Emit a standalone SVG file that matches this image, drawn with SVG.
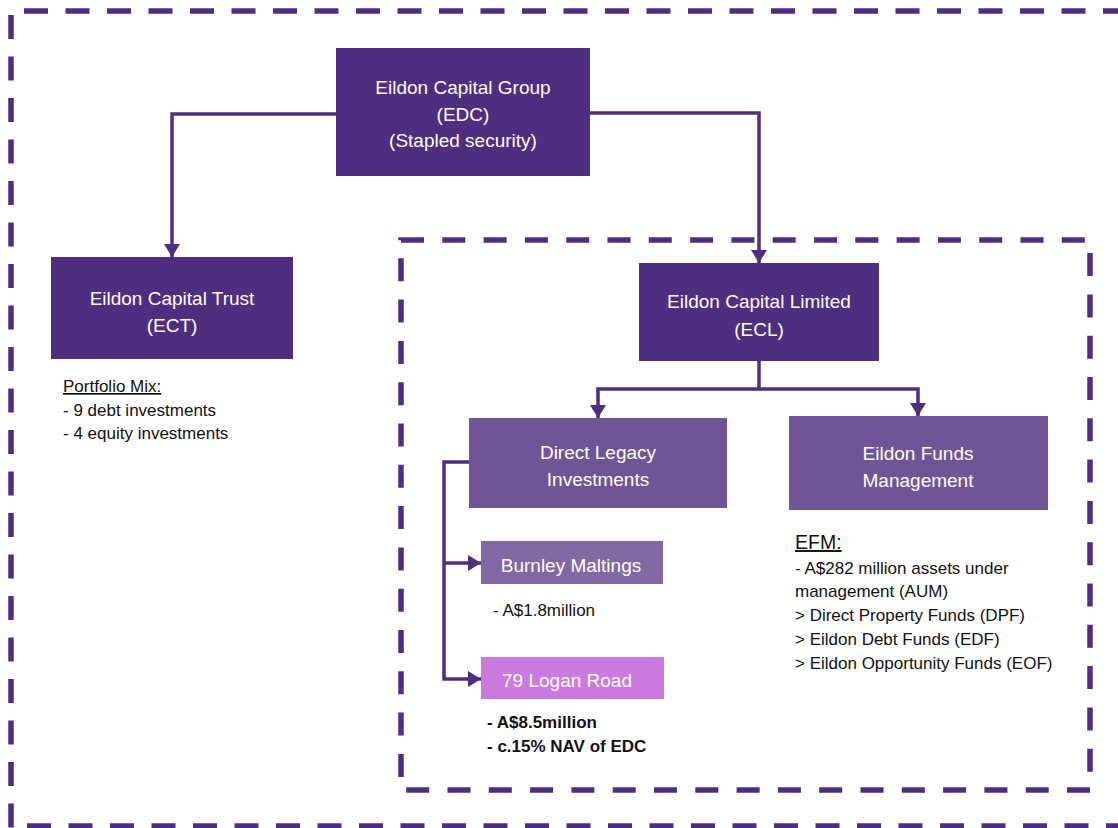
<svg xmlns="http://www.w3.org/2000/svg" width="1118" height="828" viewBox="0 0 1118 828">
<style>
.box-dark{fill:#4f2d7f}
.box-mid{fill:#705596}
.box-light{fill:#8268a2}
.box-pink{fill:#cd7ae0}
.bt{font-family:"Liberation Sans",Arial,sans-serif;font-size:19px;fill:#ffffff;text-anchor:middle}
.nt{font-family:"Liberation Sans",Arial,sans-serif;font-size:17px;fill:#111111}
.nb{font-family:"Liberation Sans",Arial,sans-serif;font-size:17px;font-weight:bold;fill:#111111}
.dash{fill:none;stroke:#4f2d7f;stroke-width:5.5;stroke-dasharray:24 17.5}
.conn{fill:none;stroke:#4f2d7f;stroke-width:3.5}
</style>
<defs>
<marker id="arr" markerUnits="userSpaceOnUse" markerWidth="14" markerHeight="16" refX="13" refY="8" orient="auto">
<path d="M0,0 L13,8 L0,16 Z" fill="#4f2d7f"/>
</marker>
</defs>
<rect width="1118" height="828" fill="#ffffff"/>

<g id="outer-boundary">
<line class="dash" x1="24" y1="11" x2="1130" y2="11"/>
<line class="dash" x1="11" y1="15" x2="11" y2="840"/>
<line class="dash" x1="27" y1="826" x2="1130" y2="826"/>
</g>
<g id="inner-boundary">
<path class="dash" style="stroke-dasharray:23 18.3" d="M401,240 H1090 V790 H401 Z"/>
</g>

<g id="connectors">
<polyline class="conn" points="336,114 172,114 172,257" marker-end="url(#arr)"/>
<polyline class="conn" points="590,113 759,113 759,263" marker-end="url(#arr)"/>
<polyline class="conn" points="759,361 759,389"/>
<polyline class="conn" points="759,389 598,389 598,418" marker-end="url(#arr)"/>
<polyline class="conn" points="759,389 918,389 918,416" marker-end="url(#arr)"/>
<polyline class="conn" points="469,462 444,462 444,679 481,679" marker-end="url(#arr)"/>
<polyline class="conn" points="444,563 481,563" marker-end="url(#arr)"/>
</g>

<g id="edc">
<rect class="box-dark" x="336" y="48" width="254" height="128"/>
<text class="bt" x="463" y="94">Eildon Capital Group</text>
<text class="bt" x="463" y="121">(EDC)</text>
<text class="bt" x="463" y="147">(Stapled security)</text>
</g>

<g id="ect">
<rect class="box-dark" x="51" y="257" width="242" height="102"/>
<text class="bt" x="172" y="305">Eildon Capital Trust</text>
<text class="bt" x="172" y="332">(ECT)</text>
<text class="nt" x="63" y="392" text-decoration="underline">Portfolio Mix:</text>
<text class="nt" x="63" y="416">- 9 debt investments</text>
<text class="nt" x="63" y="439">- 4 equity investments</text>
</g>

<g id="ecl">
<rect class="box-dark" x="639" y="263" width="240" height="98"/>
<text class="bt" x="759" y="308">Eildon Capital Limited</text>
<text class="bt" x="759" y="336">(ECL)</text>
</g>

<g id="dli">
<rect class="box-mid" x="469" y="418" width="258" height="90"/>
<text class="bt" x="598" y="459">Direct Legacy</text>
<text class="bt" x="598" y="486">Investments</text>
</g>

<g id="efm">
<rect class="box-mid" x="789" y="416" width="259" height="94"/>
<text class="bt" x="918" y="460">Eildon Funds</text>
<text class="bt" x="918" y="487">Management</text>
<text class="nt" x="795" y="549" style="font-size:19.5px" text-decoration="underline">EFM:</text>
<text class="nt" x="795" y="574">- A$282 million assets under</text>
<text class="nt" x="795" y="597">management (AUM)</text>
<text class="nt" x="795" y="621">&gt; Direct Property Funds (DPF)</text>
<text class="nt" x="795" y="645">&gt; Eildon Debt Funds (EDF)</text>
<text class="nt" x="795" y="669">&gt; Eildon Opportunity Funds (EOF)</text>
</g>

<g id="burnley">
<rect class="box-light" x="481" y="541" width="182" height="43"/>
<text class="bt" x="571" y="572">Burnley Maltings</text>
<text class="nt" x="493" y="616">- A$1.8million</text>
</g>

<g id="logan">
<rect class="box-pink" x="481" y="657" width="183" height="42"/>
<text class="bt" x="567" y="687">79 Logan Road</text>
<text class="nb" x="487" y="728">- A$8.5million</text>
<text class="nb" x="487" y="752">- c.15% NAV of EDC</text>
</g>
</svg>
